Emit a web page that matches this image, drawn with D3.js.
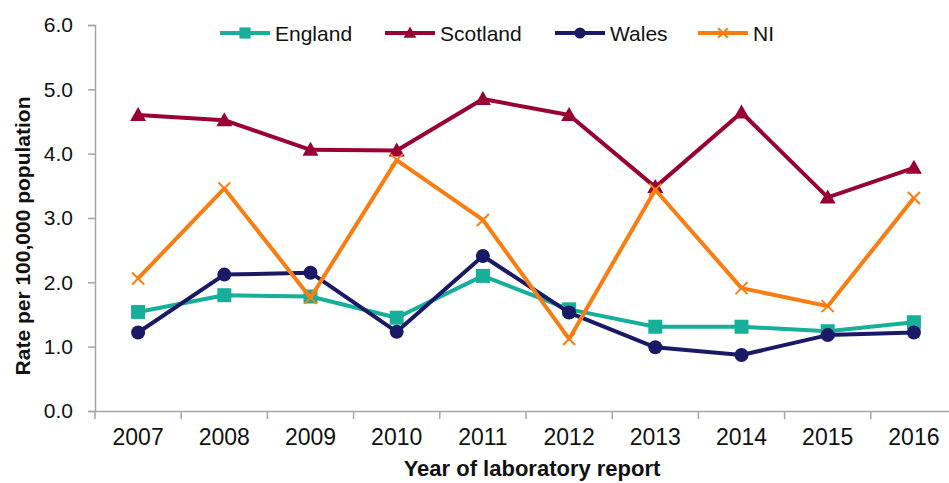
<!DOCTYPE html>
<html>
<head>
<meta charset="utf-8">
<script src="https://cdn.jsdelivr.net/npm/d3@7"></script>
<style>
  html, body { margin: 0; padding: 0; background: #fff; overflow: hidden; }
  svg { display: block; font-family: "Liberation Sans", Arial, sans-serif; }
</style>
</head>
<body>
<svg id="chart" width="949" height="483"></svg>
<script>
// Laboratory report rates per 100,000 population, 2007–2016
const years = ["2007", "2008", "2009", "2010", "2011", "2012", "2013", "2014", "2015", "2016"];
const england  = [1.54, 1.80, 1.78, 1.45, 2.10, 1.58, 1.31, 1.31, 1.24, 1.38];
const scotland = [4.60, 4.52, 4.06, 4.05, 4.85, 4.60, 3.48, 4.64, 3.32, 3.78];
const wales    = [1.22, 2.12, 2.15, 1.23, 2.41, 1.53, 0.99, 0.87, 1.18, 1.22];
const ni       = [2.06, 3.46, 1.76, 3.90, 2.97, 1.12, 3.44, 1.91, 1.63, 3.31];
const yTicks = [0, 1, 2, 3, 4, 5, 6];

const seriesNames  = ["England", "Scotland", "Wales", "NI"];
const seriesColors = ["#17AE9A", "#990033", "#191966", "#F97D10"];
const seriesShapes = ["square", "triangle", "circle", "cross"];
const seriesValues = [england, scotland, wales, ni];

const svg = d3.select("#chart");
const margin = { left: 95, top: 25, bottom: 411 };
const plotRight = 957;

const x = d3.scaleBand().domain(years).range([margin.left, plotRight]).padding(0);
const y = d3.scaleLinear().domain([0, 6]).range([margin.bottom, margin.top]);

// Y axis
const yAxis = svg.append("g")
  .attr("transform", `translate(${margin.left},0)`)
  .call(d3.axisLeft(y).tickValues(yTicks).tickFormat(d3.format(".1f")).tickSize(7).tickPadding(15));
yAxis.select(".domain").attr("stroke", "#a6a6a6").attr("stroke-width", 1.5);
yAxis.selectAll(".tick line").attr("stroke", "#a6a6a6").attr("stroke-width", 1.5);
yAxis.selectAll(".tick text")
  .attr("fill", "#111")
  .style("font-size", "21px");

// X axis: ticks sit between the year bands
const xAxis = svg.append("g")
  .attr("transform", `translate(0,${margin.bottom})`)
  .call(d3.axisBottom(x).tickSize(0).tickPadding(18));
xAxis.select(".domain").attr("stroke", "#a6a6a6").attr("stroke-width", 1.5);
xAxis.selectAll(".tick text").attr("fill", "#111").style("font-size", "23px");
const boundaries = years.map(d => x(d));
xAxis.selectAll("line.sep").data(boundaries).enter().append("line")
  .attr("class", "sep")
  .attr("x1", d => d).attr("x2", d => d)
  .attr("y1", 0).attr("y2", 8)
  .attr("stroke", "#a6a6a6").attr("stroke-width", 1.5);

// Axis titles
svg.append("text")
  .attr("x", (margin.left + plotRight) / 2 + 6)
  .attr("y", 476)
  .attr("text-anchor", "middle")
  .style("font-size", "22px").style("font-weight", "bold").attr("fill", "#111")
  .text("Year of laboratory report");
svg.append("text")
  .attr("transform", "translate(30,236) rotate(-90)")
  .attr("text-anchor", "middle")
  .style("font-size", "21px").style("font-weight", "bold").attr("fill", "#111")
  .text("Rate per 100,000 population");

// Marker drawing
function drawMarker(g, shape, color, cx, cy, scale) {
  const s = scale || 1;
  if (shape === "square") {
    g.append("rect").attr("x", cx - 7 * s).attr("y", cy - 7 * s)
      .attr("width", 14 * s).attr("height", 14 * s).attr("fill", color);
  } else if (shape === "triangle") {
    g.append("path")
      .attr("d", `M${cx},${cy - 8 * s} L${cx + 8 * s},${cy + 6 * s} L${cx - 8 * s},${cy + 6 * s} Z`)
      .attr("fill", color);
  } else if (shape === "circle") {
    g.append("circle").attr("cx", cx).attr("cy", cy).attr("r", 7 * s).attr("fill", color);
  } else if (shape === "cross") {
    const r = 6 * s;
    g.append("path")
      .attr("d", `M${cx - r},${cy - r} L${cx + r},${cy + r} M${cx + r},${cy - r} L${cx - r},${cy + r}`)
      .attr("stroke", color).attr("stroke-width", 2).attr("fill", "none");
  }
}

// Series lines and markers
const line = d3.line()
  .x((d, i) => x(years[i]) + x.bandwidth() / 2)
  .y(d => y(d));

seriesValues.forEach((vals, k) => {
  const g = svg.append("g");
  g.append("path")
    .datum(vals)
    .attr("d", line)
    .attr("fill", "none")
    .attr("stroke", seriesColors[k])
    .attr("stroke-width", 4)
    .attr("stroke-linejoin", "round");
  vals.forEach((v, i) => {
    drawMarker(g, seriesShapes[k], seriesColors[k], x(years[i]) + x.bandwidth() / 2, y(v));
  });
});

// Legend
const legendPos = [220, 385, 555, 698];
const legendY = 33;
seriesNames.forEach((name, k) => {
  const g = svg.append("g");
  const x0 = legendPos[k];
  g.append("line").attr("x1", x0).attr("x2", x0 + 50)
    .attr("y1", legendY).attr("y2", legendY)
    .attr("stroke", seriesColors[k]).attr("stroke-width", 4);
  drawMarker(g, seriesShapes[k], seriesColors[k], x0 + 25, legendY, 0.8);
  g.append("text")
    .attr("x", x0 + 55).attr("y", legendY)
    .attr("dy", "0.36em")
    .style("font-size", "21px").attr("fill", "#111")
    .text(name);
});
</script>
</body>
</html>
